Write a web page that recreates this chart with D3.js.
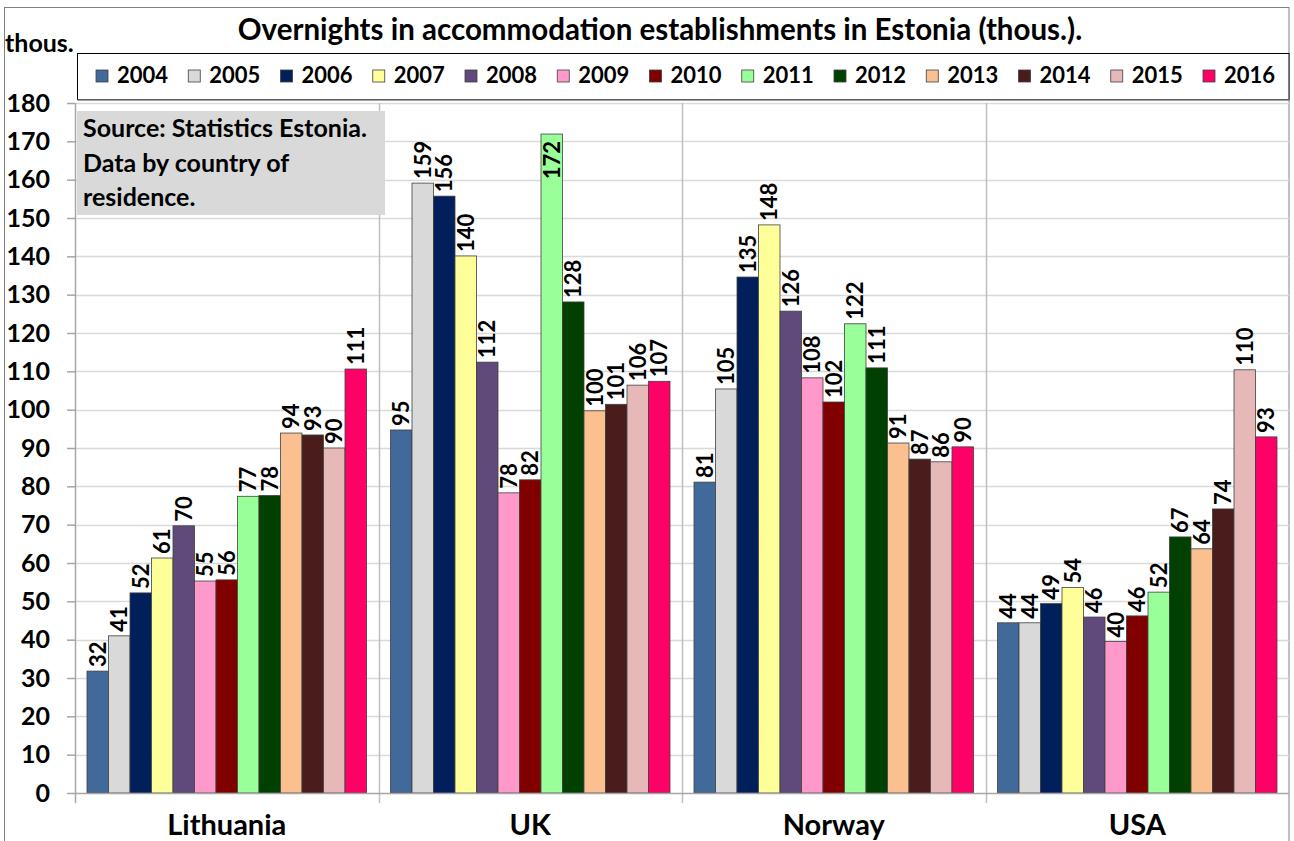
<!DOCTYPE html>
<html>
<head>
<meta charset="utf-8">
<script src="https://cdn.jsdelivr.net/npm/d3@7"></script>
<style>
  body { margin: 0; background: #fff; }
  text { font-family: Lato, "Open Sans", sans-serif; font-weight: bold; fill: #000; }
</style>
</head>
<body>
<svg id="chart"></svg>
<script>
// data
const countries = ['Lithuania', 'UK', 'Norway', 'USA'];
const years = ['2004', '2005', '2006', '2007', '2008', '2009', '2010', '2011', '2012', '2013', '2014', '2015', '2016'];
const yearColors = ['#41699a', '#d9d9d9', '#001f5b', '#ffff99', '#604a7b', '#ff99cc', '#800000',
  '#99ff99', '#004000', '#fac090', '#4a1c1c', '#e6b9b8', '#ff0066'];
const lithuania = [31.8, 41.0, 52.2, 61.3, 69.7, 55.3, 55.6, 77.4, 77.6, 93.9, 93.4, 90.0, 110.6];
const uk = [94.7, 159.1, 155.7, 140.1, 112.4, 78.3, 81.7, 171.9, 128.1, 99.7, 101.4, 106.4, 107.4];
const norway = [81.1, 105.4, 134.6, 148.2, 125.7, 108.3, 102.0, 122.4, 110.9, 91.3, 87.1, 86.4, 90.3];
const usa = [44.4, 44.4, 49.4, 53.6, 45.9, 39.5, 46.2, 52.4, 66.8, 63.7, 74.1, 110.4, 92.9];
const yTicks = d3.range(0, 181, 10);

const seriesByCountry = [lithuania, uk, norway, usa];

const W = 1294, H = 841;
const svg = d3.select('#chart').attr('width', W).attr('height', H);

const plotLeft = 75, plotRight = 1289, plotTop = 103, plotBottom = 793;

// outer frame
svg.append('rect')
  .attr('x', 4.5).attr('y', 7.5)
  .attr('width', plotRight - 4.5).attr('height', H)
  .attr('fill', '#fff').attr('stroke', '#808080').attr('stroke-width', 1);

const y = d3.scaleLinear().domain([0, 180]).range([plotBottom, plotTop]);
const x0 = d3.scaleBand().domain(countries).range([plotLeft, plotRight]).paddingInner(0).paddingOuter(0);
const barW = 21.5;
const x1 = d3.scaleBand().domain(years)
  .range([0, x0.bandwidth()])
  .paddingInner(0)
  .paddingOuter((x0.bandwidth() - barW * years.length) / 2 / barW);

// gridlines
svg.append('g').selectAll('line').data(yTicks.filter(d => d > 0)).join('line')
  .attr('x1', plotLeft).attr('x2', plotRight)
  .attr('y1', d => Math.round(y(d)) + 0.5).attr('y2', d => Math.round(y(d)) + 0.5)
  .attr('stroke', '#d9d9d9').attr('stroke-width', 1.5);

// category separators (extend below axis like tick marks)
svg.append('g').selectAll('line').data(countries.slice(1)).join('line')
  .attr('x1', d => Math.round(x0(d)) + 0.5).attr('x2', d => Math.round(x0(d)) + 0.5)
  .attr('y1', plotTop).attr('y2', plotBottom + 10)
  .attr('stroke', '#bfbfbf').attr('stroke-width', 1.5);

// source box
svg.append('rect')
  .attr('x', 77).attr('y', 111).attr('width', 308).attr('height', 104)
  .attr('fill', '#d9d9d9');
const srcLines = ['Source: Statistics Estonia.', 'Data by country of', 'residence.'];
svg.append('g').selectAll('text').data(srcLines).join('text')
  .attr('x', 83).attr('y', (d, i) => 137 + i * 34.5)
  .attr('font-size', 25)
  .text(d => d);

// bars
const groups = svg.append('g').selectAll('g').data(countries).join('g')
  .attr('transform', d => `translate(${x0(d)},0)`);

groups.each(function(country, ci) {
  const vals = seriesByCountry[ci].map((v, i) => ({ year: years[i], value: v, color: yearColors[i] }));
  const g = d3.select(this);
  g.selectAll('rect').data(vals).join('rect')
    .attr('x', d => x1(d.year))
    .attr('y', d => y(d.value))
    .attr('width', x1.bandwidth())
    .attr('height', d => plotBottom - y(d.value))
    .attr('fill', d => d.color)
    .attr('stroke', '#404040')
    .attr('stroke-width', 0.8);

  g.selectAll('text.val').data(vals).join('text')
    .attr('class', 'val')
    .attr('font-size', 22)
    .attr('text-anchor', d => (y(d.value) - 42 < plotTop ? 'end' : 'start'))
    .attr('transform', d => {
      const cx = x1(d.year) + x1.bandwidth() / 2 + 8;
      const inside = y(d.value) - 42 < plotTop;
      const ty = inside ? y(d.value) + 7 : y(d.value) - 4;
      return `translate(${cx},${ty}) rotate(-90)`;
    })
    .text(d => d3.format('.0f')(d.value));
});

// axes lines
svg.append('line')
  .attr('x1', plotLeft + 0.5).attr('x2', plotLeft + 0.5)
  .attr('y1', plotTop).attr('y2', plotBottom + 10)
  .attr('stroke', '#a6a6a6').attr('stroke-width', 1.5);
svg.append('line')
  .attr('x1', plotLeft).attr('x2', plotRight)
  .attr('y1', plotBottom + 0.5).attr('y2', plotBottom + 0.5)
  .attr('stroke', '#a6a6a6').attr('stroke-width', 1.5);

// y axis
const yAxis = d3.axisLeft(y).tickValues(yTicks).tickSize(8).tickPadding(17).tickFormat(d3.format('d'));
const ya = svg.append('g').attr('transform', `translate(${plotLeft},0)`).call(yAxis);
ya.select('.domain').remove();
ya.selectAll('line').attr('stroke', '#a6a6a6').attr('stroke-width', 1.5);
ya.selectAll('text').attr('font-size', 25).attr('font-family', 'Lato, sans-serif').attr('font-weight', 'bold').attr('fill', '#000');

// category labels
svg.append('g').selectAll('text').data(countries).join('text')
  .attr('x', d => x0(d) + x0.bandwidth() / 2)
  .attr('y', 835)
  .attr('text-anchor', 'middle')
  .attr('font-size', 29)
  .text(d => d);

// title
svg.append('text')
  .attr('x', 660).attr('y', 40)
  .attr('text-anchor', 'middle')
  .attr('font-size', 29.5)
  .text('Overnights in accommodation establishments in Estonia (thous.).');

svg.append('text')
  .attr('x', 5).attr('y', 52)
  .attr('font-size', 25)
  .text('thous.');

// legend
svg.append('rect')
  .attr('x', 77.5).attr('y', 53.5).attr('width', plotRight - 77.5).attr('height', 46)
  .attr('fill', '#fff').attr('stroke', '#000').attr('stroke-width', 1);
svg.append('line')
  .attr('x1', 77.5).attr('x2', plotRight).attr('y1', 100).attr('y2', 100)
  .attr('stroke', '#808080').attr('stroke-width', 1.5);

const legendStep = 92.25;
const leg = svg.append('g').selectAll('g').data(years).join('g')
  .attr('transform', (d, i) => `translate(${96 + i * legendStep},70)`);
leg.append('rect')
  .attr('width', 12).attr('height', 12)
  .attr('fill', (d, i) => yearColors[i])
  .attr('stroke', '#404040').attr('stroke-width', 0.8);
leg.append('text')
  .attr('x', 21).attr('y', 13)
  .attr('font-size', 22)
  .text(d => d);
</script>
</body>
</html>
